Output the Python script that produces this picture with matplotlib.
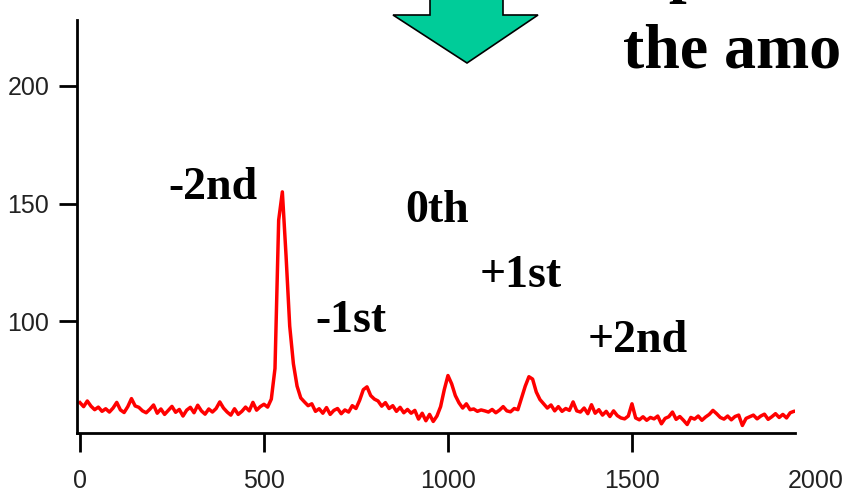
import numpy as np
import matplotlib
matplotlib.use("Agg")
import matplotlib.pyplot as plt
from matplotlib.patches import Polygon

# Sample positions (channel) and intensity, step of 10
channel = np.arange(0, 1951, 10)
intensity = [
    65.5, 63.8, 66.2, 64.0, 62.5, 63.6, 61.8, 62.9, 61.5, 63.2,
    65.6, 62.4, 61.3, 63.8, 67.2, 64.1, 63.5, 62.0, 61.2, 62.7,
    64.5, 61.0, 62.8, 60.5, 62.2, 63.9, 61.4, 62.6, 59.8, 62.3,
    63.5, 61.2, 64.4, 62.0, 60.6, 62.8, 61.5, 63.0, 65.8, 63.2,
    61.5, 60.2, 62.9, 60.5, 61.8, 63.6, 62.0, 65.6, 62.3, 63.8,
    64.8, 63.6, 67.0, 80.0, 143.0, 155.0, 128.0, 98.0, 82.0, 72.5,
    67.5, 65.8, 64.2, 65.0, 61.8, 62.9, 61.0, 63.4, 60.5, 62.2,
    63.0, 60.8, 62.4, 61.5, 64.2, 63.0, 66.5, 71.0, 72.2, 68.5,
    67.0, 66.2, 64.0, 65.5, 63.0, 64.2, 61.8, 63.5, 61.2, 62.6,
    61.0, 62.2, 58.5, 61.0, 57.8, 60.5, 57.5, 59.8, 63.8, 71.0,
    77.0, 73.5, 68.5, 65.4, 63.2, 65.0, 62.5, 62.8, 61.8, 62.4,
    62.0, 61.5, 62.6, 61.2, 62.3, 63.8, 62.0, 61.6, 63.0, 62.5,
    67.5, 72.5, 76.5, 75.5, 70.0, 66.8, 65.0, 63.2, 64.5, 62.0,
    63.8, 61.8, 63.0, 62.2, 65.8, 62.0, 61.5, 63.2, 60.8, 64.6,
    61.0, 62.5, 60.2, 61.8, 59.6, 62.0, 60.0, 59.0, 58.6, 59.8,
    65.0, 59.0, 58.2, 59.5, 58.0, 59.2, 58.6, 59.8, 56.5, 58.8,
    59.5, 61.5, 58.4, 59.6, 58.0, 56.2, 59.2, 58.5, 59.8, 58.0,
    59.4, 60.5, 62.2, 60.8, 59.2, 58.5, 59.8, 58.2, 59.6, 60.2,
    55.8, 58.8, 59.5, 60.2, 58.6, 59.8, 60.6, 58.4, 59.5, 60.8,
    59.2, 60.5, 59.0, 61.2, 61.8, 62.0,
]

x_ticks = [0, 500, 1000, 1500]
y_ticks = [100, 150, 200]

# order labels: text, left x, baseline y (data units)
order_labels = ["-2nd", "-1st", "0th", "+1st", "+2nd"]
order_x = [239, 641, 883, 1087, 1380]
order_y = [151.8, 95.6, 142.4, 114.8, 87.1]

W, H = 843, 493
fig = plt.figure(figsize=(W / 100, H / 100), dpi=100)
ax = fig.add_axes([77 / W, 1 - 433 / H, (795 - 77) / W, (433 - 20) / H])

ax.plot(channel, intensity, color="#ff0000", lw=2.5)

ax.set_xlim(-8, 1943)
ax.set_ylim(52.6, 228)
ax.spines["top"].set_visible(False)
ax.spines["right"].set_visible(False)
ax.spines["left"].set_linewidth(2)
ax.spines["bottom"].set_linewidth(2)
ax.set_xticks(x_ticks)
ax.set_yticks(y_ticks)
ax.tick_params(axis="x", length=14, width=2, pad=12, labelsize=18, labelcolor="#222222")
ax.tick_params(axis="y", length=13, width=2, pad=7, labelsize=18, labelcolor="#222222")
for lab in ax.get_xticklabels() + ax.get_yticklabels():
    lab.set_family("Liberation Sans")

# the 2000 label sits just past the cropped axis
ax.annotate("2000", xy=(2000, 0), xycoords=("data", "axes fraction"),
            xytext=(0, -26), textcoords="offset points", ha="center", va="top",
            fontsize=18, color="#222222", family="Liberation Sans", annotation_clip=False)

for t, tx, ty in zip(order_labels, order_x, order_y):
    ax.text(tx, ty, t, fontsize=33, fontweight="bold", family="Liberation Serif",
            ha="left", va="baseline")

# green arrow at the top (figure pixel coords)
arrow_px = [(430, -5), (430, 15), (393, 15), (467, 63), (538, 15), (503, 15), (503, -5)]
arrow = Polygon([(px / W, 1 - py / H) for px, py in arrow_px], closed=True,
                facecolor="#00cc99", edgecolor="black", lw=1.2, transform=fig.transFigure)
fig.add_artist(arrow)

fig.text(623 / W, 1 - 67 / H, "the amo", fontsize=46, fontweight="bold",
         family="Liberation Serif", ha="left", va="baseline")
fig.text(668 / W, 1 + 10 / H, "p", fontsize=46, fontweight="bold",
         family="Liberation Serif", ha="left", va="baseline")

fig.savefig("out.png", dpi=100)
